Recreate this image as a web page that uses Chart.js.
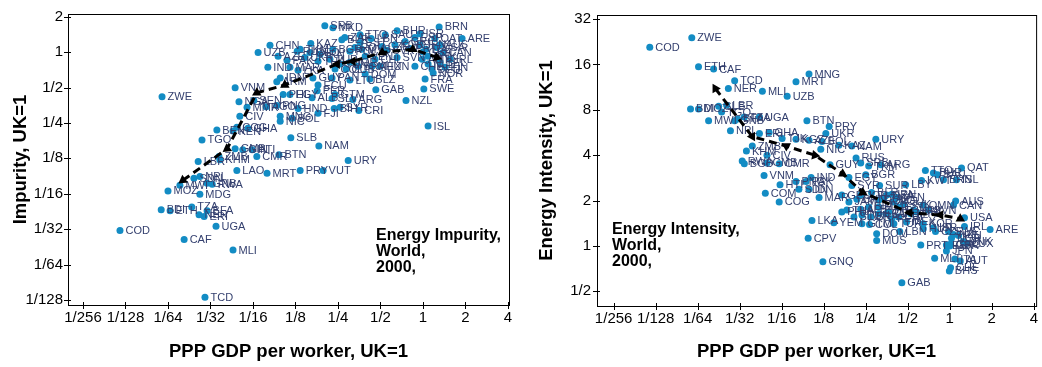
<!DOCTYPE html>
<html><head><meta charset="utf-8">
<script src="https://cdn.jsdelivr.net/npm/chart.js@4"></script>
<style>
html,body{margin:0;padding:0;background:#fff;}
#wrap{position:relative;width:1042px;height:367px;overflow:hidden;}
canvas{position:absolute;top:0;}
#c1{left:0;} #c2{left:521px;}
</style></head><body>
<div id="wrap"><canvas id="c1" width="521" height="367"></canvas><canvas id="c2" width="521" height="367"></canvas></div>
<script>
// ---- Tick labels (axis positions are log2 of the value, UK=1) ----
const gdpTickLabels = ['1/256','1/128','1/64','1/32','1/16','1/8','1/4','1/2','1','2','4']; // log2 -8..2
const impTickLabels = ['1/128','1/64','1/32','1/16','1/8','1/4','1/2','1','2'];            // log2 -7..1
const eiTickLabels  = ['1/2','1','2','4','8','16','32'];                                   // log2 -1..5

// ---- Left panel: Energy Impurity (log2 values, UK=1) ----
const impCodes = ['ZWE','VNM','NGA','SEN','MMR','AGO','PNG','CIV','BEN','KEN','COG','GHA','TGO','GMB','GIN','HTI','ZMB','LBR','KHM','CMR','BTN','LAO','MRT','PRY','VUT','URY','SLB','NAM','ISL','SDN','NPL','MWI','GNB','RWA','MOZ','MDG','BDI','ETH','TZA','BFA','NER','ERI','UGA','COD','CAF','MLI','TCD','HND','BIH','SYR','CRI','FJI','MNG','NIC','BOL','ALB','SLV','GTM','ARG','PER','ECU','GUY','PAN','LTU','BLZ','GAB','NZL','SWE','FRA','NOR','NLD','DEU','IDN','ARM','PHL','EGY','IND','MAR','CUB','HUN','MEX','SVN','CHN','KAZ','UZB','AZE','SRB','MKD','ZAF','BHR','BRN','ISR','QAT','ARE','USA','LBN','RUS','UKR','BLR','POL','ROU','BGR','EST','CZE','SVK','KOR','GRC','PRT','ESP','JPN','ITA','AUS','CAN','DNK','AUT','BEL','FIN','IRL','CHE','GBR','TTO','SAU','TUR','IRN','TKM','JOR','TUN','VEN','CHL','BRA','COL','DOM','THA','MYS','LKA','PAK','GEO'];
const impGdp = [-6.14,-4.42,-4.33,-3.98,-4.14,-3.69,-3.44,-4.31,-4.85,-4.47,-4.38,-4.12,-5.20,-4.42,-4.24,-4.02,-4.80,-5.29,-4.78,-3.91,-3.39,-4.38,-3.67,-2.89,-2.35,-1.76,-3.11,-2.45,0.12,-5.39,-5.25,-5.72,-5.08,-4.96,-6.00,-5.25,-6.16,-5.95,-5.44,-5.08,-5.27,-5.15,-4.87,-7.13,-5.62,-4.47,-5.13,-2.94,-2.09,-1.95,-1.51,-2.47,-3.36,-3.36,-3.08,-2.61,-2.14,-2.07,-1.65,-2.49,-2.47,-2.59,-2.14,-1.72,-1.25,-1.11,-0.40,0.02,0.05,0.24,0.12,0.21,-3.36,-3.44,-3.29,-3.13,-3.65,-3.13,-1.81,-1.01,-1.20,-0.61,-3.60,-2.64,-3.88,-3.41,-2.31,-2.12,-1.84,-0.61,0.38,-0.07,0.28,0.92,0.33,-1.22,-2.96,-2.78,-1.91,-1.72,-1.60,-2.12,-1.48,-0.96,-0.85,-0.66,-0.42,-0.31,-0.19,-0.07,0.07,0.40,0.47,0.12,-0.02,0.40,0.52,0.64,-0.19,0.00,-1.48,-0.89,-2.19,-2.42,-2.89,-1.72,-1.95,-1.36,-1.13,-1.53,-2.07,-1.36,-2.47,-1.44,-2.94,-3.20,-2.66];
const impVal = [-1.26,-1.01,-1.40,-1.37,-1.56,-1.54,-1.51,-1.81,-2.20,-2.23,-2.12,-2.15,-2.48,-2.73,-2.76,-2.76,-2.95,-3.09,-3.04,-2.95,-2.90,-3.34,-3.42,-3.34,-3.34,-3.06,-2.42,-2.65,-2.09,-3.56,-3.51,-3.76,-3.70,-3.73,-3.92,-4.01,-4.45,-4.48,-4.37,-4.48,-4.59,-4.64,-4.92,-5.04,-5.29,-5.59,-6.92,-1.59,-1.59,-1.56,-1.65,-1.73,-1.81,-1.95,-1.87,-1.29,-1.31,-1.20,-1.34,-1.09,-0.93,-0.73,-0.73,-0.79,-0.76,-1.06,-1.37,-1.04,-0.76,-0.59,-0.34,-0.48,-0.73,-0.84,-1.20,-1.20,-0.43,-0.43,-0.48,-0.40,-0.40,-0.15,0.19,0.24,-0.01,-0.12,0.74,0.69,0.41,0.60,0.71,0.52,0.38,0.38,0.13,0.38,0.02,-0.15,0.35,0.02,0.13,0.08,0.27,0.16,0.05,0.21,0.30,0.10,0.41,0.21,0.08,0.21,-0.01,-0.12,-0.20,-0.29,-0.43,-0.20,-0.40,0.00,0.49,0.49,-0.20,-0.06,0.08,-0.29,-0.34,-0.12,-0.20,-0.40,-0.48,-0.62,-0.26,0.08,-0.51,-0.23,-0.01];
const impTrendGdp = [-5.65,-4.61,-3.91,-3.25,-2.02,-1.65,-0.96,-0.24,0.33];
const impTrendVal = [-3.62,-2.73,-1.15,-0.93,-0.34,-0.26,-0.01,0.08,-0.15];

// ---- Right panel: Energy Intensity (log2 values, UK=1) ----
const eiCodes = ['COD','ZWE','ETH','CAF','TCD','NER','MLI','MRT','MNG','UZB','BDI','MOZ','SLE','TGO','LBR','TZA','UGA','MWI','GNB','BFA','NPL','BTN','PRY','UKR','URY','AZE','BOL','NIC','NAM','KAZ','ERI','GHA','TJK','KGZ','ZMB','KHM','CIV','RWA','BGD','GMB','CMR','VNM','HTI','PNG','PAK','IND','IDN','SDN','COM','COG','MAR','GUY','RUS','SRB','ARG','TKM','BGR','EGY','SYR','SUR','LBY','IRN','DZA','JOR','PHL','THA','SVK','OMN','TUN','BRA','ECU','LKA','YEM','GTM','COL','MEX','KOR','DOM','MUS','LBN','CPV','GNQ','PRT','MLT','GAB','QAT','TTO','BHR','SAU','ISL','BRN','KWT','AUS','CAN','USA','IRL','ARE','SWE','NZL','FIN','NOR','ESP','GRC','DNK','LUX','JPN','ITA','AUT','CHE','BHS','CZE','HUN','GBR','ZAF','POL','ROU','CHN','HRV','EST','LTU','BLR','SLV','PER','PAN','CRI','MYS','CHL','TUR','VEN','SVN','ISR','JAM','ALB','BIH','GEO','MKD'];
const eiGdp = [-7.14,-6.14,-5.98,-5.62,-5.12,-5.27,-4.46,-3.66,-3.35,-3.87,-6.17,-5.98,-5.50,-5.43,-5.31,-4.89,-4.53,-5.74,-5.12,-5.05,-5.22,-3.40,-2.87,-2.95,-1.76,-3.35,-3.04,-3.07,-2.33,-2.64,-4.53,-4.30,-3.99,-3.66,-4.70,-4.84,-4.35,-4.94,-4.89,-4.35,-4.06,-4.42,-4.04,-3.66,-3.42,-3.30,-3.35,-3.59,-4.39,-4.06,-3.11,-2.85,-2.23,-2.12,-1.64,-1.93,-2.00,-2.40,-2.33,-1.67,-1.05,-1.38,-1.50,-2.12,-2.57,-2.45,-1.10,-0.63,-2.09,-1.88,-1.69,-3.28,-2.76,-2.09,-1.91,-1.03,-0.63,-1.74,-1.74,-1.19,-3.37,-3.02,-0.69,-0.36,-1.14,0.28,-0.58,-0.39,-0.29,0.16,-0.15,-0.67,0.14,0.09,0.35,0.35,0.96,-0.03,0.09,0.21,0.04,-0.08,0.02,0.32,0.40,-0.08,0.12,0.25,0.02,-0.01,-0.34,-0.63,0.00,-1.57,-1.33,-1.69,-2.21,-0.86,-1.22,-1.45,-1.86,-2.28,-1.38,-1.52,-1.22,-0.93,-0.79,-1.33,-1.26,-0.51,-0.39,-2.40,-2.12,-1.93,-2.57,-1.69];
const eiVal = [4.38,4.59,3.95,3.90,3.64,3.47,3.41,3.62,3.79,3.30,3.02,3.02,3.08,2.95,3.10,2.84,2.84,2.76,2.76,2.80,2.54,2.76,2.63,2.48,2.35,2.33,2.30,2.13,2.20,2.22,2.48,2.50,2.37,2.35,2.20,2.09,2.00,1.87,1.81,1.83,1.81,1.55,1.35,1.42,1.42,1.51,1.25,1.25,1.16,0.97,1.07,1.79,1.94,1.83,1.79,1.76,1.57,1.51,1.33,1.33,1.35,1.14,1.12,1.12,0.75,0.79,0.92,0.90,0.68,0.64,0.71,0.56,0.51,0.49,0.47,0.53,0.49,0.27,0.12,0.32,0.17,-0.35,0.02,-0.27,-0.81,1.72,1.66,1.61,1.57,1.46,1.46,1.44,0.99,0.90,0.62,0.43,0.36,0.32,0.25,0.23,0.17,0.02,0.04,0.10,0.06,-0.11,-0.29,-0.33,-0.48,-0.55,0.32,0.38,0.00,1.05,0.97,1.01,1.03,0.79,0.86,0.75,1.18,0.64,0.60,0.71,0.64,0.71,0.75,0.49,1.07,0.79,0.40,0.97,0.81,0.86,1.12,0.86];
const eiTrendGdp = [-5.58,-4.70,-3.89,-3.21,-2.55,-2.07,-0.96,-0.22,0.25];
const eiTrendVal = [3.47,2.41,2.20,2.00,1.59,1.18,0.73,0.68,0.60];

const FONT = '"Liberation Sans", Arial, Helvetica, sans-serif';

const decor = {
  id: 'decor',
  beforeDatasetsDraw(chart, args, o) {
    const {ctx, chartArea: a, scales} = chart;
    ctx.save();
    ctx.strokeStyle = '#000'; ctx.lineWidth = 1;
    ctx.strokeRect(a.left + 0.5, a.top + 0.5, a.right - a.left, a.bottom - a.top);
    ctx.beginPath();
    scales.x.ticks.forEach(t => { const p = Math.round(scales.x.getPixelForValue(t.value)) + 0.5; ctx.moveTo(p, a.bottom - 3); ctx.lineTo(p, a.bottom + 4); });
    scales.y.ticks.forEach(t => { const p = Math.round(scales.y.getPixelForValue(t.value)) + 0.5; ctx.moveTo(a.left - 4, p); ctx.lineTo(a.left + 3, p); });
    ctx.stroke();
    ctx.fillStyle = '#000'; ctx.font = 'bold 16px ' + FONT; ctx.textBaseline = 'middle'; ctx.textAlign = 'left';
    o.lines.forEach((s, i) => ctx.fillText(s, o.x, o.y + i * 16));
    ctx.restore();
  },
  afterDatasetDraw(chart, args, o) {
    if (args.index !== 1) return;
    const ctx = chart.ctx;
    ctx.save();
    ctx.font = '11px ' + FONT; ctx.fillStyle = '#333f6e'; ctx.textBaseline = 'middle'; ctx.textAlign = 'left';
    args.meta.data.forEach((el, i) => ctx.fillText(o.codes[i], el.x + 5.5, el.y + 0.5));
    ctx.restore();
  }
};

function build(id, P) {
  const tickFont = {family: FONT, size: 15};
  const titleFont = {family: FONT, size: 18.5, weight: 'bold'};
  new Chart(document.getElementById(id), {
    type: 'scatter',
    data: {datasets: [
      {data: P.tx.map((x, i) => ({x, y: P.ty[i]})), showLine: true, borderColor: '#000', borderWidth: 3,
       borderDash: [8, 5], tension: 0, fill: false, pointStyle: 'triangle', pointRadius: 5.5,
       pointBackgroundColor: '#000', pointBorderColor: '#000', pointBorderWidth: 0, pointRotation: P.rot},
      {data: P.x.map((x, i) => ({x, y: P.y[i]})), showLine: false, pointRadius: 3.5,
       pointBackgroundColor: '#138cc4', pointBorderWidth: 0}
    ]},
    options: {
      responsive: false, animation: false, events: [],
      layout: {padding: {top: 9, right: P.padRight, left: 0, bottom: 0}},
      plugins: {legend: {display: false}, tooltip: {enabled: false},
        decor: {codes: P.codes, lines: P.inset, x: P.insetX, y: P.insetY}},
      scales: {
        x: {type: 'linear', min: P.xmin, max: P.xmax,
          afterBuildTicks: s => { s.ticks = gdpTickLabels.map((_, i) => ({value: i - 8})); },
          afterFit: s => { s.height = P.xH; },
          ticks: {font: tickFont, color: '#000', padding: 4, maxRotation: 0, autoSkip: false,
            callback: v => gdpTickLabels[Math.round(v) + 8]},
          grid: {display: false, drawTicks: false}, border: {display: false},
          title: {display: true, text: 'PPP GDP per worker, UK=1', font: titleFont, color: '#000', padding: {top: 0, bottom: 4}}},
        y: {type: 'linear', min: P.ymin, max: P.ymax,
          afterBuildTicks: s => { s.ticks = P.yLabels.map((_, i) => ({value: i + P.yStart})); },
          afterFit: s => { s.width = P.yW; },
          ticks: {font: tickFont, color: '#000', padding: P.yPad, autoSkip: false,
            callback: v => P.yLabels[Math.round(v) - P.yStart]},
          grid: {display: false, drawTicks: false}, border: {display: false},
          title: {display: true, text: P.yTitle, font: titleFont, color: '#000', padding: {top: P.yTitlePad, bottom: 0}}}
      }
    },
    plugins: [decor]
  });
}

build('c1', {codes: impCodes, x: impGdp, y: impVal, tx: impTrendGdp, ty: impTrendVal,
  rot: [234, 234, 0, 240, 270, 270, 0, 0, 110],
  xmin: -8.353, xmax: 2.024, ymin: -7.14, ymax: 1.075, yLabels: impTickLabels, yStart: -7,
  yTitle: 'Impurity, UK=1', yW: 68, xH: 62, padRight: 12, yPad: 5, yTitlePad: 10,
  inset: ['Energy Impurity,', 'World,', '2000,'], insetX: 376, insetY: 236});

build('c2', {codes: eiCodes, x: eiGdp, y: eiVal, tx: eiTrendGdp, ty: eiTrendVal,
  rot: [330, 150, 180, 100, 120, 0, 270, 270, 0],
  xmin: -8.396, xmax: 2.055, ymin: -1.324, ymax: 5.09, yLabels: eiTickLabels, yStart: -1,
  yTitle: 'Energy Intensity, UK=1', yW: 76, xH: 61, padRight: 4, yPad: 6, yTitlePad: 15,
  inset: ['Energy Intensity,', 'World,', '2000,'], insetX: 91, insetY: 230});
</script>
</body></html>
